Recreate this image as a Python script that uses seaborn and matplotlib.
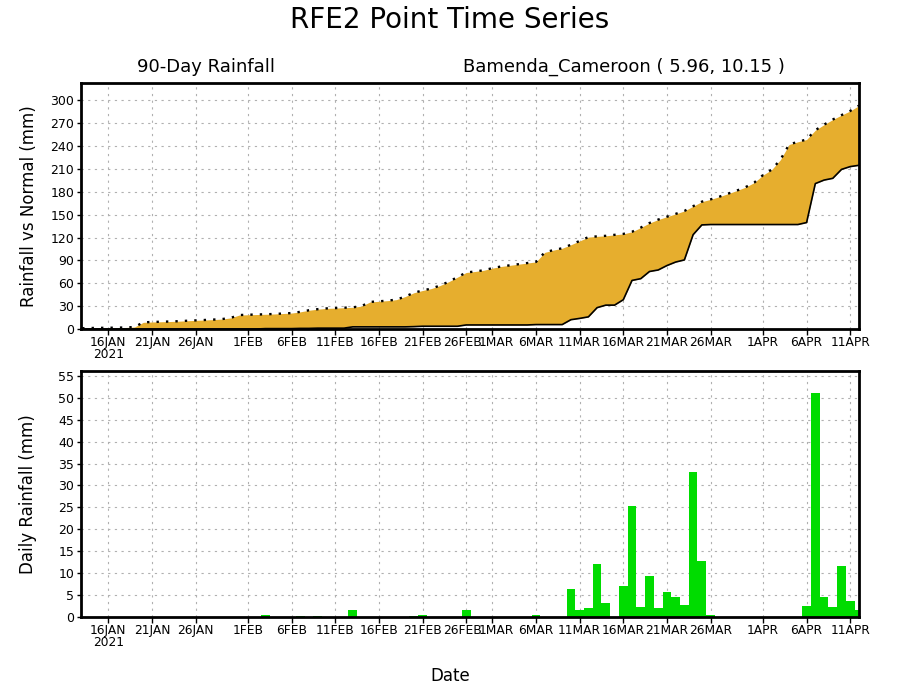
import matplotlib
matplotlib.use("Agg")
import matplotlib.pyplot as plt
import matplotlib.dates as mdates
import matplotlib.transforms as mtrans
import seaborn as sns
import pandas as pd
import numpy as np

# 90 days, 13 Jan - 12 Apr 2021
days = pd.date_range("2021-01-13", "2021-04-12", freq="D")

# normal (climatological) cumulative rainfall, mm
normal_cum = [
    1.0, 1.3, 1.5, 1.6, 1.8, 2.0, 2.6, 8.7, 9.2, 9.5, 9.8, 10.2, 10.8, 11.3,
    11.8, 12.3, 13.0, 14.5, 18.3,
    18.7, 19.0, 19.3, 19.7, 20.3, 20.9, 22.5, 24.6, 26.0, 27.0, 27.4, 27.9,
    28.4, 30.0, 35.5, 36.3, 37.2, 38.5, 42.5, 47.5, 50.5, 53.0, 57.0, 62.0,
    68.0, 74.1, 75.4, 77.0,
    79.8, 82.0, 83.5, 85.0, 86.5, 88.0, 100.5, 103.5, 105.9, 110.5, 115.5,
    120.5, 121.5, 122.2, 123.5, 124.7, 127.5, 133.0, 139.0, 143.5, 147.3,
    151.0, 154.8, 161.0, 167.0, 170.0, 173.5, 177.5, 181.5, 186.0, 192.0,
    201.8, 209.0, 222.0, 242.0, 245.5, 248.5, 260.7, 268.0, 274.7, 280.5,
    286.0, 293.0,
]

# observed daily rainfall on rainy days, mm
rain_dates = [
    "2021-02-03", "2021-02-07", "2021-02-09", "2021-02-13", "2021-02-20",
    "2021-02-21", "2021-02-26", "2021-03-06", "2021-03-10", "2021-03-11",
    "2021-03-12", "2021-03-13", "2021-03-14", "2021-03-16", "2021-03-17",
    "2021-03-18", "2021-03-19", "2021-03-20", "2021-03-21", "2021-03-22",
    "2021-03-23", "2021-03-24", "2021-03-25", "2021-03-26", "2021-04-06",
    "2021-04-07", "2021-04-08", "2021-04-09", "2021-04-10", "2021-04-11",
    "2021-04-12",
]
rain_mm = [
    0.5, 0.3, 0.3, 1.7, 0.3,
    0.5, 1.7, 0.5, 6.4, 1.7,
    2.0, 12.1, 3.3, 7.1, 25.3,
    2.3, 9.4, 2.0, 5.8, 4.6,
    2.8, 33.1, 12.8, 0.5, 2.6,
    51.1, 4.6, 2.3, 11.7, 3.7,
    1.7,
]

tick_days = ["2021-01-16", "2021-01-21", "2021-01-26", "2021-02-01", "2021-02-06",
             "2021-02-11", "2021-02-16", "2021-02-21", "2021-02-26", "2021-03-01",
             "2021-03-06", "2021-03-11", "2021-03-16", "2021-03-21", "2021-03-26",
             "2021-04-01", "2021-04-06", "2021-04-11"]
tick_text = ["16JAN\n2021", "21JAN", "26JAN", "1FEB", "6FEB", "11FEB", "16FEB",
             "21FEB", "26FEB", "1MAR", "6MAR", "11MAR", "16MAR", "21MAR", "26MAR",
             "1APR", "6APR", "11APR"]

daily = pd.Series(rain_mm, index=pd.to_datetime(rain_dates)).reindex(days, fill_value=0.0)
df = pd.DataFrame({
    "x": mdates.date2num(days),
    "daily": daily.values,
    "actual": daily.cumsum().values,
    "normal": normal_cum,
})

FILL = "#E6AE2E"
GREEN = "#00DC00"

sns.set_style("white")
plt.rcParams["font.family"] = ["DejaVu Sans"]
plt.rcParams.update({"text.color": "black", "axes.labelcolor": "black",
                     "xtick.color": "black", "ytick.color": "black"})

fig = plt.figure(figsize=(9, 7), dpi=100)
ax1 = fig.add_axes([0.09, 0.53, 0.8644, 0.3514])
ax2 = fig.add_axes([0.09, 0.1186, 0.8644, 0.3514])

# top: 90 day cumulative vs normal
ax1.fill_between(df["x"], df["actual"], df["normal"], where=df["normal"] >= df["actual"],
                 color=FILL, linewidth=0, interpolate=True)
ax1.fill_between(df["x"], df["actual"], df["normal"], where=df["normal"] < df["actual"],
                 color=GREEN, linewidth=0, interpolate=True)
sns.lineplot(data=df, x="x", y="actual", ax=ax1, color="black", linewidth=1.2)
sns.lineplot(data=df, x="x", y="normal", ax=ax1, color="black", linewidth=1.7,
             linestyle=(0, (1, 3)))

# bottom: daily bars
sns.histplot(data=df, x="x", weights="daily", discrete=True, ax=ax2,
             color=GREEN, edgecolor=None, linewidth=0, alpha=1, shrink=1)

xmin = mdates.date2num(pd.Timestamp("2021-01-12")) + 0.87
xmax = mdates.date2num(pd.Timestamp("2021-04-12"))
tick_x = mdates.date2num(pd.to_datetime(tick_days))

for ax in (ax1, ax2):
    ax.set_xlim(xmin, xmax)
    ax.set_xticks(tick_x)
    ax.set_xticklabels(tick_text, fontsize=8.8, linespacing=0.95, ha="center")
    ax.grid(True, color="#b0b0b0", linestyle=(0, (2, 4)), linewidth=0.8)
    ax.set_axisbelow(True)
    for s in ax.spines.values():
        s.set_color("black")
        s.set_linewidth(2)
    ax.tick_params(axis="x", direction="out", length=4, width=1, pad=1, bottom=True)
    ax.tick_params(axis="y", direction="out", length=3, width=1, pad=2, left=True,
                   labelsize=9)
    ax.set_xlabel("")
    # nudge the two crowded labels apart a little
    labels = ax.get_xticklabels()
    labels[8].set_transform(labels[8].get_transform() +
                            mtrans.ScaledTranslation(-4 / 100, 0, fig.dpi_scale_trans))
    labels[9].set_transform(labels[9].get_transform() +
                            mtrans.ScaledTranslation(4 / 100, 0, fig.dpi_scale_trans))

ax1.set_ylim(0, 322.6)
ax1.set_yticks(np.arange(0, 301, 30))
ax1.set_ylabel("Rainfall vs Normal (mm)", fontsize=12, labelpad=9)

ax2.set_ylim(0, 56.1)
ax2.set_yticks(np.arange(0, 56, 5))
ax2.set_ylabel("Daily Rainfall (mm)", fontsize=12, labelpad=15)

fig.text(0.5, 0.971, "RFE2 Point Time Series", ha="center", va="center", fontsize=20)
fig.text(0.229, 0.904, "90-Day Rainfall", ha="center", va="center", fontsize=13)
fig.text(0.693, 0.904, "Bamenda_Cameroon ( 5.96, 10.15 )", ha="center", va="center",
         fontsize=13)
fig.text(0.5, 0.034, "Date", ha="center", va="center", fontsize=12)

fig.savefig("out.png", dpi=100)
